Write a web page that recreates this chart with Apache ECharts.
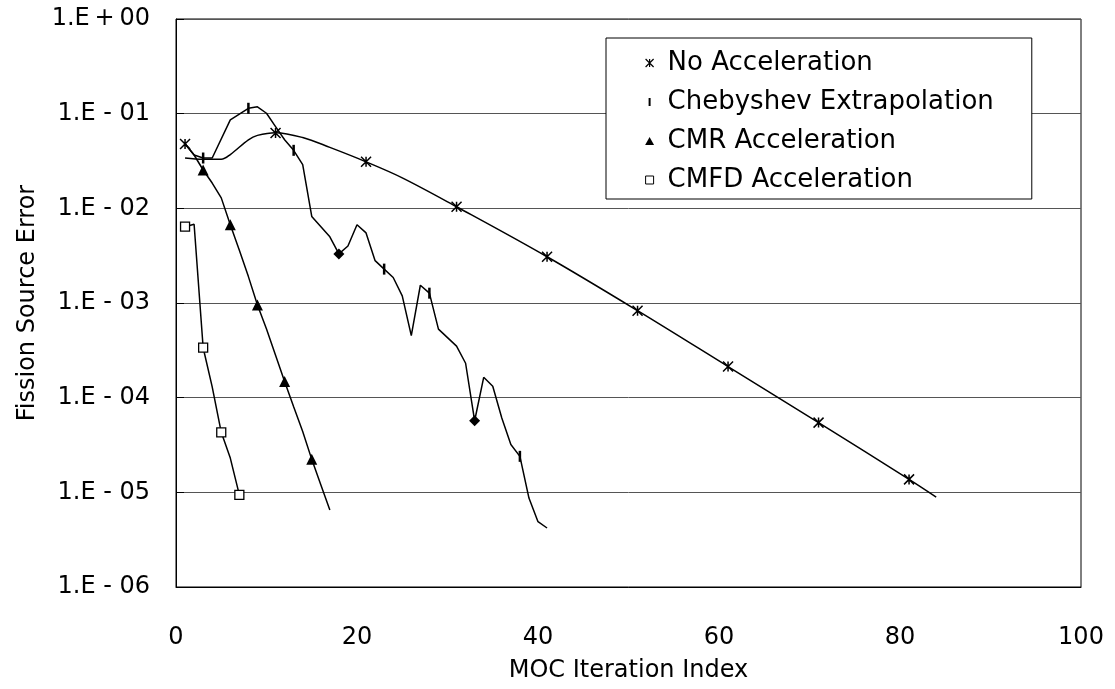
<!DOCTYPE html>
<html><head><meta charset="utf-8">
<script src="https://cdn.jsdelivr.net/npm/echarts@6/dist/echarts.min.js"></script>
<style>html,body{margin:0;padding:0;background:#fff}#c{width:1115px;height:689px}</style>
</head><body><div id="c"></div>
<script>
// ---- data ----
const seriesNames = ['No Acceleration', 'Chebyshev Extrapolation', 'CMR Acceleration', 'CMFD Acceleration'];

const yTickValues = [1e-6, 1e-5, 1e-4, 1e-3, 1e-2, 1e-1, 1];
const yTickLabels = ['1.E - 06', '1.E - 05', '1.E - 04', '1.E - 03', '1.E - 02', '1.E - 01', '1.E\u2009+\u200900'];

// No Acceleration (smoothed curve + markers every 10 iterations)
const noAccLineX = [1, 3, 5, 6, 8, 9, 11, 14, 17, 21, 25, 31, 41, 51, 61, 71, 81, 84];
const noAccLineY = [0.034, 0.033, 0.033, 0.037, 0.053, 0.059, 0.063, 0.056, 0.044, 0.031, 0.021, 0.0104, 0.00308, 0.00083, 0.000213, 5.45e-5, 1.37e-5, 8.9e-6];
const noAccMarkX = [1, 11, 21, 31, 41, 51, 61, 71, 81];
const noAccMarkY = [0.0479, 0.0625, 0.0311, 0.0104, 0.00308, 0.00083, 0.000213, 5.45e-5, 1.37e-5];

// Chebyshev Extrapolation
const chebX = [1, 2, 3, 4, 6, 8, 9, 10, 11, 12, 13, 14, 15, 17, 18, 19, 20, 21, 22, 23, 24, 25, 26, 27, 28, 29, 31, 32, 33, 34, 35, 36, 37, 38, 39, 40, 41];
const chebY = [0.048, 0.0366, 0.034, 0.034, 0.086, 0.114, 0.118, 0.101, 0.073, 0.053, 0.041, 0.029, 0.0082, 0.0050, 0.0033, 0.0040, 0.0067, 0.0055, 0.0028, 0.00228, 0.00186, 0.00119, 0.000453, 0.00154, 0.00127, 0.00053, 0.00035, 0.000231, 5.7e-5, 0.000164, 0.000132, 6.1e-5, 3.2e-5, 2.4e-5, 8.7e-6, 4.9e-6, 4.2e-6];
const chebMarkX = [3, 8, 13, 18, 23, 28, 33, 38];
const chebMarkY = [0.034, 0.114, 0.041, 0.0033, 0.00228, 0.00127, 5.7e-5, 2.4e-5];
const chebDiamondX = [18, 33];

// CMR Acceleration
const cmrX = [1, 2, 3, 4, 5, 6, 7, 8, 9, 10, 11, 12, 13, 14, 15, 16, 17];
const cmrY = [0.048, 0.0366, 0.0254, 0.0185, 0.0129, 0.0067, 0.0036, 0.0019, 0.000953, 0.00053, 0.00028, 0.000148, 8e-5, 4.4e-5, 2.23e-5, 1.2e-5, 6.5e-6];
const cmrMarkX = [3, 6, 9, 12, 15];
const cmrMarkY = [0.0254, 0.0067, 0.000953, 0.000148, 2.23e-5];

// CMFD Acceleration
const cmfdX = [1, 2, 3, 4, 5, 6, 7];
const cmfdY = [0.0064, 0.0068, 0.000337, 0.00013, 4.3e-5, 2.3e-5, 9.4e-6];
const cmfdMarkX = [1, 3, 5, 7];
const cmfdMarkY = [0.0064, 0.000337, 4.3e-5, 9.4e-6];

// ---- chart ----
const FONT = 'DejaVu Sans';
const STAR = 'path://M0,0L10,10M10,0L0,10M5,0L5,10';
const zip = (xs, ys) => xs.map((x, i) => [x, ys[i]]);

const lineSeries = (xs, ys, smooth) => ({
  type: 'line', data: zip(xs, ys), showSymbol: false, symbol: 'none', smooth: smooth,
  silent: true, z: 2,
  lineStyle: { color: '#000', width: 1.5 }
});

const chart = echarts.init(document.getElementById('c'), null, { renderer: 'canvas' });
chart.setOption({
  animation: false,
  backgroundColor: '#fff',
  textStyle: { fontFamily: FONT, color: '#000' },
  grid: { left: 176, right: 34, top: 19, bottom: 102, show: true, borderColor: '#000', borderWidth: 1, backgroundColor: 'transparent' },
  legend: {
    orient: 'vertical', left: 606, top: 38,
    padding: [12, 38, 6, 39],
    itemWidth: 26, itemHeight: 8, itemGap: 13,
    backgroundColor: '#fff', borderColor: '#000', borderWidth: 1, borderRadius: 0,
    textStyle: { fontFamily: FONT, fontSize: 26, color: '#000' },
    data: [
      { name: seriesNames[0], icon: STAR, itemStyle: { color: 'rgba(0,0,0,0)', borderColor: '#000', borderWidth: 1.2 } },
      { name: seriesNames[1], icon: 'path://M0,0H1V4H0Z', itemStyle: { color: '#000', borderWidth: 0 } },
      { name: seriesNames[2], icon: 'path://M5,0L10,9L0,9Z', itemStyle: { color: '#000', borderWidth: 0 } },
      { name: seriesNames[3], icon: 'path://M0,0H10V10H0Z', itemStyle: { color: '#fff', borderColor: '#000', borderWidth: 1 } }
    ]
  },
  xAxis: {
    type: 'value', min: 0, max: 100, interval: 20,
    name: 'MOC Iteration Index', nameLocation: 'middle', nameGap: 72,
    nameTextStyle: { fontFamily: FONT, fontSize: 24, color: '#000' },
    axisLine: { show: true, lineStyle: { color: '#000', width: 1 } },
    axisTick: { show: false },
    axisLabel: { fontFamily: FONT, fontSize: 24, color: '#000', margin: 39 },
    splitLine: { show: false }
  },
  yAxis: {
    type: 'log', logBase: 10, min: 1e-6, max: 1, interval: 1,
    name: 'Fission Source Error', nameLocation: 'middle', nameGap: 136,
    nameTextStyle: { fontFamily: FONT, fontSize: 24, color: '#000' },
    axisLine: { show: true, lineStyle: { color: '#000', width: 1 } },
    axisTick: { show: true, inside: true, length: 8, lineStyle: { color: '#000' } },
    axisLabel: {
      fontFamily: FONT, fontSize: 24, color: '#000', margin: 26,
      formatter: v => {
        let best = 0;
        yTickValues.forEach((t, i) => { if (Math.abs(Math.log10(t) - Math.log10(v)) < Math.abs(Math.log10(yTickValues[best]) - Math.log10(v))) best = i; });
        return yTickLabels[best];
      }
    },
    splitLine: { show: true, lineStyle: { color: '#555', width: 1 } }
  },
  series: [
    lineSeries(noAccLineX, noAccLineY, 0.35),
    lineSeries(chebX, chebY, false),
    lineSeries(cmrX, cmrY, false),
    lineSeries(cmfdX, cmfdY, false),
    {
      name: seriesNames[0], type: 'scatter', z: 5, data: zip(noAccMarkX, noAccMarkY),
      symbol: STAR, symbolSize: 10,
      itemStyle: { color: 'rgba(0,0,0,0)', borderColor: '#000', borderWidth: 1.5, opacity: 1 }
    },
    {
      name: seriesNames[1], type: 'scatter', z: 5,
      data: chebMarkX.map((x, i) => chebDiamondX.indexOf(x) >= 0
        ? { value: [x, chebMarkY[i]], symbol: 'diamond', symbolSize: 11 }
        : { value: [x, chebMarkY[i]] }),
      symbol: 'rect', symbolSize: [2.5, 11],
      itemStyle: { color: '#000', opacity: 1 }
    },
    {
      name: seriesNames[2], type: 'scatter', z: 5, data: zip(cmrMarkX, cmrMarkY),
      symbol: 'triangle', symbolSize: 11,
      itemStyle: { color: '#000', opacity: 1 }
    },
    {
      name: seriesNames[3], type: 'scatter', z: 5, data: zip(cmfdMarkX, cmfdMarkY),
      symbol: 'rect', symbolSize: 9,
      itemStyle: { color: '#fff', borderColor: '#000', borderWidth: 1.3, opacity: 1 }
    }
  ]
});
</script></body></html>
